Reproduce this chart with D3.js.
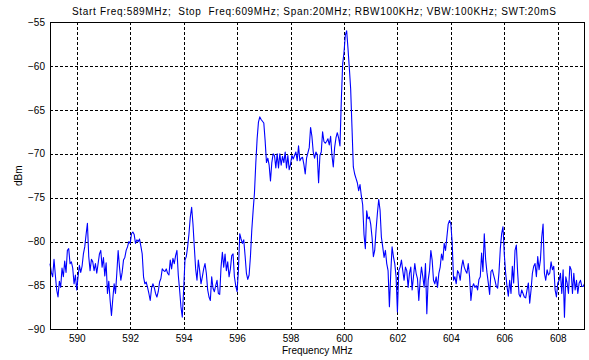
<!DOCTYPE html>
<html>
<head>
<meta charset="utf-8">
<script src="https://cdn.jsdelivr.net/npm/d3@7"></script>
<style>
  body { margin: 0; background: #fff; }
  svg { display: block; font-family: "Liberation Sans", Arial, sans-serif; }
  .grid line { stroke: #000; stroke-dasharray: 3,2; shape-rendering: crispEdges; }
  .axis path, .axis line { display: none; }
  .axis text { font-size: 10px; fill: #000; }
</style>
</head>
<body>
<div id="chart"></div>
<script>
// sweep settings
const startFreq = 589;
const stopFreq = 609;
const xTicks = [590, 592, 594, 596, 598, 600, 602, 604, 606, 608];
const yTicks = [-55, -60, -65, -70, -75, -80, -85, -90];
const titleText = "Start Freq:589MHz;  Stop  Freq:609MHz; Span:20MHz; RBW100KHz; VBW:100KHz; SWT:20mS";

// trace, dBm, one value per 50 kHz from 589 to 609 MHz
const level = [
  -82.5, -83.5, -84.0, -82.0, -83.8, -85.5, -86.3, -84.5, -85.2, -83.0, -84.0, -82.2, -83.5, -81.0, -80.8, -82.5, -82.3, -83.0, -84.8, -83.8,
  -85.5, -84.0, -82.7, -83.5, -82.8, -81.4, -80.6, -79.2, -77.9, -81.7, -83.3, -82.0, -82.3, -83.3, -82.5, -83.6, -82.5, -81.4, -81.0, -82.9,
  -81.8, -83.9, -82.4, -85.9, -84.5, -86.7, -88.4, -86.5, -84.8, -85.9, -83.6, -81.0, -82.9, -84.4, -83.5, -82.1, -81.8, -81.0, -80.6, -80.0,
  -80.2, -79.1, -78.9, -79.2, -80.2, -79.8, -80.0, -79.7, -80.5, -81.4, -84.0, -84.8, -84.6, -85.2, -85.9, -86.7, -85.3, -84.8, -85.2, -85.9,
  -86.3, -85.7, -84.6, -84.2, -83.1, -83.3, -83.4, -83.1, -83.6, -83.8, -82.1, -83.1, -81.9, -82.5, -81.6, -81.0, -83.8, -85.5, -87.4, -88.6,
  -85.5, -82.1, -81.7, -80.6, -79.1, -77.2, -76.1, -78.0, -80.6, -83.1, -84.4, -82.1, -83.3, -84.8, -84.0, -83.1, -82.5, -83.6, -85.5, -86.3,
  -86.7, -84.0, -85.3, -85.7, -85.0, -84.4, -85.9, -86.0, -82.9, -81.2, -82.9, -81.4, -83.3, -82.3, -84.0, -83.1, -81.6, -81.4, -84.0, -85.0,
  -85.7, -83.3, -79.1, -79.7, -80.2, -79.8, -81.6, -83.6, -84.3, -83.8, -81.7, -78.7, -76.5, -74.5, -71.1, -68.3, -66.4, -65.8, -66.1, -66.3,
  -66.5, -68.5, -71.0, -70.5, -71.3, -73.1, -71.0, -70.0, -70.2, -71.6, -70.0, -71.6, -70.0, -71.3, -70.3, -71.0, -69.8, -71.6, -70.2, -71.8,
  -71.2, -70.2, -70.6, -70.2, -69.8, -70.8, -69.1, -70.8, -70.5, -70.4, -71.2, -72.3, -70.5, -69.9, -69.3, -67.0, -68.0, -69.8, -70.5, -69.8,
  -70.1, -73.3, -70.2, -69.8, -67.5, -68.6, -68.8, -68.6, -68.3, -69.0, -68.0, -70.2, -71.5, -69.3, -68.2, -67.6, -68.2, -69.1, -64.0, -59.8,
  -58.5, -56.5, -56.0, -58.0, -60.2, -62.6, -67.0, -71.5, -72.3, -72.8, -73.3, -74.2, -73.5, -74.8, -75.8, -79.2, -80.8, -76.5, -77.4, -77.2,
  -78.0, -79.5, -81.7, -81.0, -78.7, -76.8, -75.2, -76.4, -79.5, -80.6, -81.8, -81.0, -82.5, -83.3, -87.4, -83.6, -80.6, -81.7, -82.5, -84.0,
  -88.0, -83.3, -82.9, -82.1, -83.3, -84.4, -82.9, -83.3, -85.2, -83.6, -82.9, -85.5, -84.0, -82.5, -83.6, -84.2, -86.7, -84.4, -82.9, -84.0,
  -85.2, -82.5, -88.2, -84.4, -83.3, -81.0, -82.1, -84.4, -84.8, -84.0, -85.2, -83.6, -82.9, -81.4, -82.1, -80.2, -81.0, -79.5, -78.0, -77.6,
  -78.0, -80.2, -84.4, -84.0, -84.8, -83.3, -83.6, -84.4, -82.9, -82.1, -82.9, -83.3, -83.6, -82.5, -84.0, -86.7, -85.2, -84.8, -85.2, -85.0,
  -85.5, -84.3, -84.0, -81.3, -83.4, -79.1, -82.0, -83.5, -84.7, -86.0, -83.4, -83.2, -83.8, -84.4, -85.1, -85.3, -83.5, -80.8, -79.1, -78.3,
  -81.5, -83.6, -85.1, -86.2, -84.4, -85.9, -82.8, -84.7, -81.0, -80.4, -83.6, -86.0, -86.3, -85.5, -85.9, -86.3, -86.4, -85.5, -84.7, -87.0,
  -85.5, -83.6, -82.8, -82.5, -84.0, -81.7, -83.2, -82.1, -79.5, -78.0, -83.6, -84.4, -83.2, -83.8, -83.6, -82.3, -83.2, -82.8, -85.5, -86.3,
  -84.7, -84.4, -83.6, -85.9, -83.2, -88.6, -84.0, -84.7, -85.9, -82.8, -83.2, -85.9, -83.6, -85.5, -84.4, -85.9, -84.7, -84.4, -85.1, -85.1,
  -84.8
];

const W = 589, H = 360;
const margin = { top: 22, right: 4.5, bottom: 30.5, left: 50 };
const width = W - margin.left - margin.right;
const height = H - margin.top - margin.bottom;

const step = (stopFreq - startFreq) / (level.length - 1);
const trace = level.map((v, i) => ({ f: startFreq + i * step, v: v }));

const x = d3.scaleLinear().domain([startFreq, stopFreq]).range([0, width]);
const y = d3.scaleLinear().domain([-90, -55]).range([height, 0]);

const svg = d3.select('#chart').append('svg')
  .attr('width', W)
  .attr('height', H);

const g = svg.append('g')
  .attr('transform', `translate(${margin.left}, ${margin.top})`);

// grid
g.append('g')
  .attr('class', 'grid')
  .selectAll('line.v')
  .data(xTicks)
  .enter().append('line')
  .attr('x1', d => Math.round(x(d)) + 0.5)
  .attr('x2', d => Math.round(x(d)) + 0.5)
  .attr('y1', 0)
  .attr('y2', height);

g.append('g')
  .attr('class', 'grid')
  .selectAll('line.h')
  .data(yTicks.filter(d => d > -90 && d < -55))
  .enter().append('line')
  .attr('x1', 0)
  .attr('x2', width)
  .attr('y1', d => Math.round(y(d)) + 0.5)
  .attr('y2', d => Math.round(y(d)) + 0.5);

// trace
const line = d3.line()
  .x(d => x(d.f))
  .y(d => y(d.v));

g.append('path')
  .datum(trace)
  .attr('fill', 'none')
  .attr('stroke', '#0000ff')
  .attr('stroke-width', 1.1)
  .attr('stroke-linejoin', 'round')
  .attr('d', line);

// frame
g.append('rect')
  .attr('x', 0.5)
  .attr('y', 0.5)
  .attr('width', width - 1)
  .attr('height', height - 1)
  .attr('fill', 'none')
  .attr('stroke', '#000')
  .attr('stroke-width', 1)
  .attr('shape-rendering', 'crispEdges');

// axes
g.append('g')
  .attr('class', 'axis')
  .attr('transform', `translate(0, ${height})`)
  .call(d3.axisBottom(x).tickValues(xTicks).tickSize(0).tickPadding(5).tickFormat(d3.format('d')));

g.append('g')
  .attr('class', 'axis')
  .call(d3.axisLeft(y).tickValues(yTicks).tickSize(0).tickPadding(5).tickFormat(d3.format('d')));

// labels
svg.append('text')
  .attr('x', 314)
  .attr('y', 15)
  .attr('text-anchor', 'middle')
  .attr('font-size', 10)
  .attr('xml:space', 'preserve')
  .attr('textLength', 484)
  .attr('lengthAdjust', 'spacing')
  .text(titleText);

svg.append('text')
  .attr('x', margin.left + width / 2)
  .attr('y', 354)
  .attr('text-anchor', 'middle')
  .attr('font-size', 10)
  .text('Frequency MHz');

svg.append('text')
  .attr('text-anchor', 'middle')
  .attr('font-size', 10)
  .attr('transform', `translate(22, ${margin.top + height / 2}) rotate(-90)`)
  .text('dBm');
</script>
</body>
</html>
